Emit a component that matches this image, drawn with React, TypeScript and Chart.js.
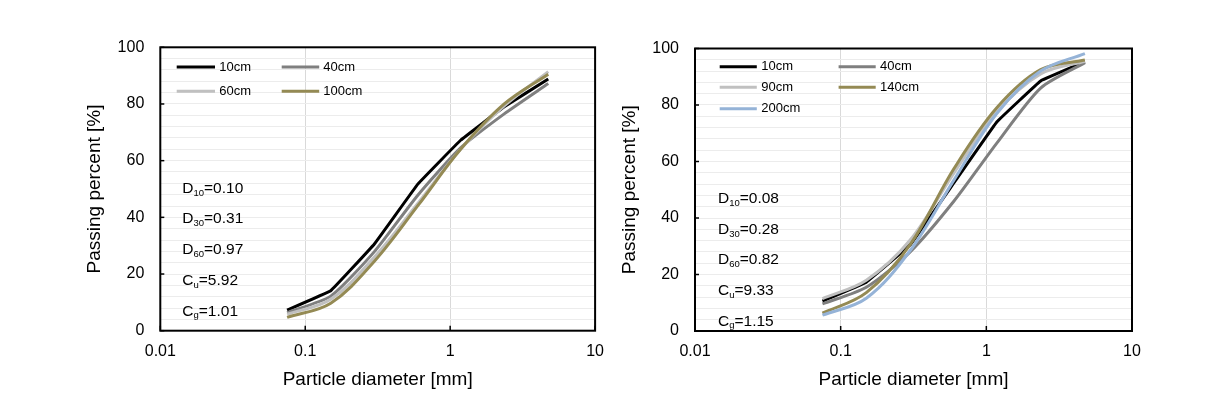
import React, { useEffect, useRef } from 'react';
import { Chart, registerables } from 'chart.js';

Chart.register(...registerables);

// ---------- data ----------
const SIEVE_MM = [0.075, 0.15, 0.3, 0.6, 1.18, 2.36, 4.75];
const X_TICKS = [0.01, 0.1, 1, 10];
const Y_TICK_LABELS = [0, 20, 40, 60, 80, 100];

const LEFT_LABELS = ['10cm', '40cm', '60cm', '100cm'];
const LEFT_10CM = [7.3, 14.1, 30.6, 51.8, 67.2, 79.0, 88.8];
const LEFT_40CM = [6.4, 12.2, 27.9, 47.9, 64.5, 76.5, 87.2];
const LEFT_60CM = [5.8, 11.1, 26.0, 45.0, 64.0, 79.3, 91.4];
const LEFT_100CM = [4.7, 9.7, 24.5, 44.2, 64.0, 80.0, 90.5];

const RIGHT_LABELS = ['10cm', '40cm', '90cm', '140cm', '200cm'];
const RIGHT_10CM = [10.6, 17.3, 30.5, 52.5, 74.0, 88.5, 95.3];
const RIGHT_40CM = [9.6, 15.5, 28.0, 46.0, 66.5, 86.0, 95.0];
const RIGHT_90CM = [11.5, 18.0, 32.2, 56.0, 77.5, 91.0, 95.5];
const RIGHT_140CM = [6.3, 13.6, 30.6, 57.5, 79.0, 92.5, 95.9];
const RIGHT_200CM = [5.6, 11.6, 28.5, 53.5, 77.0, 92.0, 98.2];

const LEFT_PARAMS = [
  ['D', '10', '=0.10'],
  ['D', '30', '=0.31'],
  ['D', '60', '=0.97'],
  ['C', 'u', '=5.92'],
  ['C', 'g', '=1.01'],
];
const RIGHT_PARAMS = [
  ['D', '10', '=0.08'],
  ['D', '30', '=0.28'],
  ['D', '60', '=0.82'],
  ['C', 'u', '=9.33'],
  ['C', 'g', '=1.15'],
];

const X_TITLE = 'Particle diameter [mm]';
const Y_TITLE = 'Passing percent [%]';

// ---------- styles ----------
const FONT = '"Liberation Sans", Arial, sans-serif';
const C_BLACK = '#000000';
const C_DARK = '#7f7f7f';
const C_LIGHT = '#c0c0c0';
const C_OLIVE = '#948a54';
const C_BLUE = '#95b3d7';

const LEFT_COLORS = [C_BLACK, C_DARK, C_LIGHT, C_OLIVE];
const RIGHT_COLORS = [C_BLACK, C_DARK, C_LIGHT, C_OLIVE, C_BLUE];
const LEFT_TENSION = [0.05, 0.2, 0.35, 0.35];
const RIGHT_TENSION = [0.05, 0.25, 0.35, 0.35, 0.35];

type PanelCfg = {
  left: number;
  width: number;
  padding: { left: number; top: number; right: number; bottom: number };
  yWidth: number;
  xHeight: number;
  labels: string[];
  series: number[][];
  colors: string[];
  tension: number[];
  legendCols: { l0: number; l1: number; tx: number }[];
  legendRows: number[];
  params: string[][];
  paramX: number;
  paramBase: number[];
};

const PANELS: PanelCfg[] = [
  {
    left: 0,
    width: 615,
    padding: { left: 80.3, top: 47.3, right: 17.7, bottom: 13.3 },
    yWidth: 80,
    xHeight: 60,
    labels: LEFT_LABELS,
    series: [LEFT_10CM, LEFT_40CM, LEFT_60CM, LEFT_100CM],
    colors: LEFT_COLORS,
    tension: LEFT_TENSION,
    legendCols: [
      { l0: 16.4, l1: 54.7, tx: 59 },
      { l0: 121.4, l1: 158.9, tx: 163 },
    ],
    legendRows: [19.7, 44],
    params: LEFT_PARAMS,
    paramX: 22,
    paramBase: [146, 176, 206.7, 237.7, 268.4],
  },
  {
    left: 615,
    width: 616,
    padding: { left: 0, top: 48.5, right: 99, bottom: 13 },
    yWidth: 80,
    xHeight: 60,
    labels: RIGHT_LABELS,
    series: [RIGHT_10CM, RIGHT_40CM, RIGHT_90CM, RIGHT_140CM, RIGHT_200CM],
    colors: RIGHT_COLORS,
    tension: RIGHT_TENSION,
    legendCols: [
      { l0: 24.7, l1: 61.8, tx: 66.2 },
      { l0: 143.6, l1: 180.7, tx: 185 },
    ],
    legendRows: [18.2, 38.8, 60.2],
    params: RIGHT_PARAMS,
    paramX: 23,
    paramBase: [154.8, 185.5, 215.5, 246.5, 277.2],
  },
];

function decorPlugin(cfg: PanelCfg) {
  return {
    id: 'decor',
    afterDraw(chart: any) {
      const { ctx, chartArea: a, scales } = chart;
      ctx.save();
      // inner tick marks
      ctx.strokeStyle = '#000';
      ctx.lineWidth = 1.5;
      for (const v of Y_TICK_LABELS) {
        const y = scales.y.getPixelForValue(v);
        ctx.beginPath();
        ctx.moveTo(a.left, y);
        ctx.lineTo(a.left + 4, y);
        ctx.stroke();
      }
      for (const v of X_TICKS) {
        const x = scales.x.getPixelForValue(v);
        ctx.beginPath();
        ctx.moveTo(x, a.bottom);
        ctx.lineTo(x, a.bottom - 5);
        ctx.stroke();
      }
      // frame
      ctx.lineWidth = 2;
      ctx.strokeRect(a.left, a.top, a.right - a.left, a.bottom - a.top);

      // legend
      ctx.font = `13px ${FONT}`;
      ctx.textBaseline = 'middle';
      ctx.textAlign = 'left';
      cfg.labels.forEach((lab, i) => {
        const col = cfg.legendCols[i % 2];
        const row = cfg.legendRows[Math.floor(i / 2)];
        const y = a.top + row;
        ctx.strokeStyle = cfg.colors[i];
        ctx.lineWidth = 3;
        ctx.beginPath();
        ctx.moveTo(a.left + col.l0, y);
        ctx.lineTo(a.left + col.l1, y);
        ctx.stroke();
        ctx.fillStyle = '#000';
        ctx.fillText(lab, a.left + col.tx, y);
      });

      // parameters
      ctx.textBaseline = 'alphabetic';
      ctx.fillStyle = '#000';
      cfg.params.forEach((p, i) => {
        const y = a.top + cfg.paramBase[i];
        let x = a.left + cfg.paramX;
        ctx.font = `15.5px ${FONT}`;
        ctx.fillText(p[0], x, y);
        x += ctx.measureText(p[0]).width;
        ctx.font = `9.5px ${FONT}`;
        ctx.fillText(p[1], x, y + 2.5);
        x += ctx.measureText(p[1]).width;
        ctx.font = `15.5px ${FONT}`;
        ctx.fillText(p[2], x, y);
      });
      ctx.restore();
    },
  };
}

function Panel({ cfg }: { cfg: PanelCfg }) {
  const ref = useRef<HTMLCanvasElement>(null);
  useEffect(() => {
    const n = cfg.series.length;
    const chart = new Chart(ref.current as HTMLCanvasElement, {
      type: 'line',
      data: {
        datasets: cfg.series.map((vals, i) => ({
          label: cfg.labels[i],
          data: SIEVE_MM.map((x, k) => ({ x, y: vals[k] })),
          borderColor: cfg.colors[i],
          backgroundColor: cfg.colors[i],
          borderWidth: 3,
          pointRadius: 0,
          fill: false,
          tension: cfg.tension[i],
          order: n - 1 - i,
        })),
      },
      options: {
        responsive: false,
        animation: false,
        devicePixelRatio: 1,
        layout: { padding: cfg.padding },
        plugins: {
          legend: { display: false },
          tooltip: { enabled: false },
          title: { display: false },
        },
        scales: {
          x: {
            type: 'logarithmic',
            position: 'bottom',
            min: 0.01,
            max: 10,
            afterBuildTicks: (s: any) => {
              s.ticks = X_TICKS.map((v) => ({ value: v }));
            },
            afterFit: (s: any) => {
              s.height = cfg.xHeight;
            },
            ticks: {
              autoSkip: false,
              maxRotation: 0,
              minRotation: 0,
              padding: 11,
              color: '#000',
              font: { family: FONT, size: 16 },
              callback: (v: any) => String(v),
            },
            grid: {
              drawTicks: false,
              lineWidth: 1,
              color: (c: any) =>
                c.tick && (c.tick.value === 0.1 || c.tick.value === 1) ? '#d9d9d9' : 'rgba(0,0,0,0)',
            },
            border: { display: false },
            title: {
              display: true,
              text: X_TITLE,
              color: '#000',
              font: { family: FONT, size: 19 },
              padding: { top: 0, bottom: 0 },
            },
          },
          y: {
            type: 'linear',
            position: 'left',
            min: 0,
            max: 100,
            afterFit: (s: any) => {
              s.width = cfg.yWidth;
            },
            ticks: {
              stepSize: 4,
              autoSkip: false,
              padding: 16,
              color: '#000',
              font: { family: FONT, size: 16 },
              callback: (v: any) => (Number(v) % 20 === 0 ? String(v) : ''),
            },
            grid: { drawTicks: false, color: '#ececec', lineWidth: 1 },
            border: { display: false },
            title: {
              display: true,
              text: Y_TITLE,
              color: '#000',
              font: { family: FONT, size: 19 },
              padding: { top: 3.5, bottom: 0 },
            },
          },
        },
      } as any,
      plugins: [decorPlugin(cfg)],
    });
    return () => chart.destroy();
  }, [cfg]);
  return (
    <canvas
      ref={ref}
      width={cfg.width}
      height={404}
      style={{ position: 'absolute', left: cfg.left, top: 0, width: cfg.width, height: 404 }}
    />
  );
}

export default function App() {
  return (
    <div style={{ position: 'absolute', left: 0, top: 0, width: 1231, height: 404, background: '#fff' }}>
      {PANELS.map((p, i) => (
        <Panel key={i} cfg={p} />
      ))}
    </div>
  );
}
